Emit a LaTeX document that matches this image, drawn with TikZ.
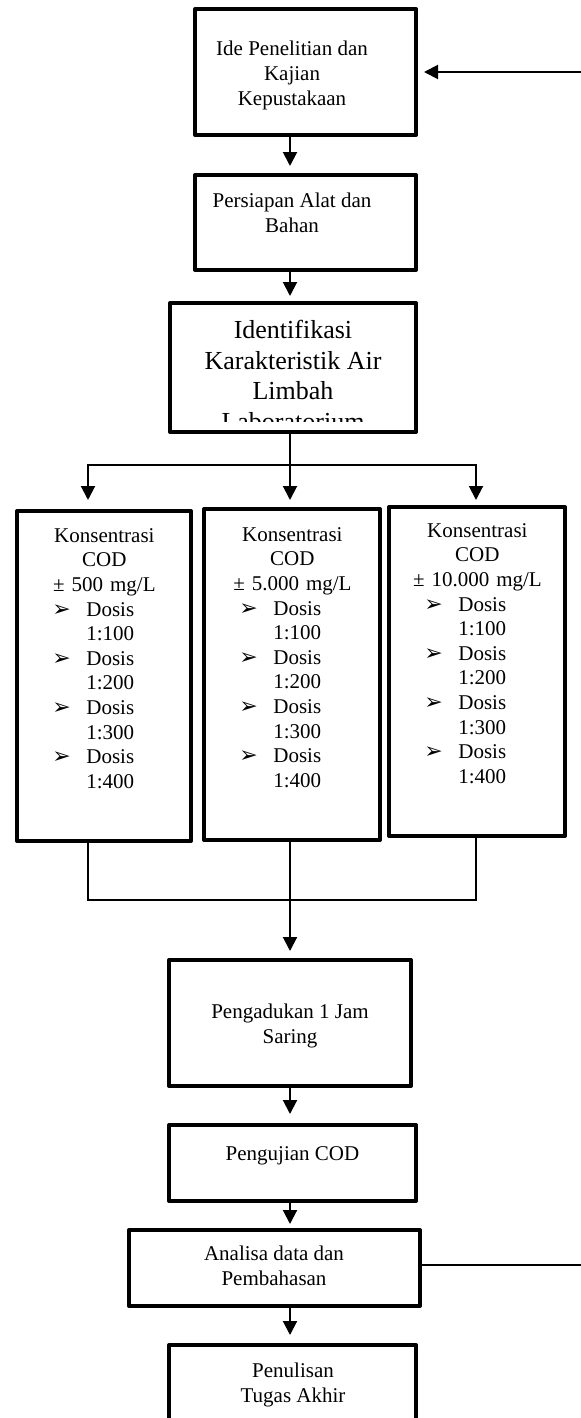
\documentclass[tikz,border=0pt]{standalone}
\usepackage{fontspec}
\setmainfont{Liberation Serif}
\newfontfamily\panahfont{DejaVu Sans}
\usetikzlibrary{arrows.meta}
\setlength\parindent{0pt}
\newcommand{\dosis}[1]{\hspace*{18.5pt}\makebox[17pt][l]{\panahfont\fontsize{11}{11}\selectfont ➢}Dosis\\\hspace*{35.5pt}#1\par}
\newcommand{\kolom}[1]{\centering Konsentrasi\\COD\\± #1 mg/L\par
  \raggedright\dosis{1:100}\dosis{1:200}\dosis{1:300}\dosis{1:400}}

\begin{document}
\begin{tikzpicture}[x=0.5pt,y=-0.5pt,
    kotak/.style={draw,line width=2pt,line join=round,inner sep=0pt},
    teks/.style={inner sep=0pt,align=center,anchor=north,font=\fontsize{10.5}{12.3}\selectfont},
    kolomteks/.style={inner sep=0pt,anchor=north west,font=\fontsize{10.5}{12.3}\selectfont},
    panah/.style={-{Triangle[length=7pt,width=7pt]},line width=1pt},
    garis/.style={line width=0.6pt}]
  \clip (0,0) rectangle (581,1418);
  \coordinate (spine) at (290,0);
  \coordinate (xl) at (88,0);
  \coordinate (xr) at (476,0);

  % boxes
  \node[kotak,minimum width=110.5pt,minimum height=63pt] (ide) at (305.5,72) {};
  \node[teks] (idet) at (292,41) {Ide Penelitian dan\\Kajian\\Kepustakaan};
  \node[kotak,minimum width=110.5pt,minimum height=47.5pt] (alat) at (305.5,222.5) {};
  \node[teks] (alatt) at (292,193) {Persiapan Alat dan\\Bahan};
  \node[kotak,minimum width=123pt,minimum height=64.5pt] (identifikasi) at (293,367.5) {};
  \begin{scope}
    \clip ([shift={(3,4)}]identifikasi.north west) rectangle ([shift={(-3,-13)}]identifikasi.south east);
    \node[teks,font=\fontsize{13}{15.25}\selectfont] (identifikasit) at (293,320)
      {Identifikasi\\Karakteristik Air\\Limbah\\Laboratorium};
  \end{scope}

  \node[kotak,minimum width=87pt,minimum height=165pt] (c1) at (104,676) {};
  \node[kolomteks,text width=89pt] (c1t) at (15,528) {\kolom{500}};
  \node[kotak,minimum width=88pt,minimum height=165.5pt] (c2) at (292,674.5) {};
  \node[kolomteks,text width=90pt] (c2t) at (202,527) {\kolom{5.000}};
  \node[kotak,minimum width=88pt,minimum height=164.5pt] (c3) at (477,671.5) {};
  \node[kolomteks,text width=90pt] (c3t) at (387,523) {\kolom{10.000}};

  \node[kotak,minimum width=121pt,minimum height=63pt] (aduk) at (290,1023) {};
  \node[teks] (adukt) at (290,1004) {Pengadukan 1 Jam\\Saring};
  \node[kotak,minimum width=123.5pt,minimum height=38pt] (uji) at (292.5,1163) {};
  \node[teks] (ujit) at (292.5,1146) {Pengujian COD};
  \node[kotak,minimum width=145.5pt,minimum height=38pt] (analisa) at (274.5,1268) {};
  \node[teks] (analisat) at (274,1246) {Analisa data dan\\Pembahasan};
  \node[kotak,minimum width=123.5pt,minimum height=55pt] (tulis) at (292.5,1400) {};
  \node[teks] (tulist) at (293,1363) {Penulisan\\Tugas Akhir};

  % connectors
  \coordinate (balik1) at (581,72);
  \coordinate (balik2) at (581,1265);
  \coordinate (cabang) at (290,465);
  \coordinate (gabung) at (290,900);
  \draw[panah,shorten >=3pt] (balik1) -- (ide.east |- balik1);
  \draw[panah,shorten >=3.5pt] (ide.south -| spine) -- (alat.north -| spine);
  \draw[panah,shorten >=2.5pt] (alat.south -| spine) -- (identifikasi.north -| spine);
  \draw[line width=1pt] (identifikasi.south -| spine) -- (cabang);
  \draw[panah,shorten >=4.5pt] (cabang) -| (c1.north -| xl);
  \draw[panah,shorten >=3.5pt] (cabang) -- (c2.north -| spine);
  \draw[panah,shorten >=2.5pt] (cabang) -| (c3.north -| xr);
  \draw[garis] (c1.south -| xl) |- (gabung) -| (c3.south -| xr);
  \draw[panah,shorten >=3.5pt] (c2.south -| spine) -- (aduk.north -| spine);
  \draw[panah,shorten >=4.5pt] (aduk.south -| spine) -- (uji.north -| spine);
  \draw[panah,shorten >=2pt] (uji.south -| spine) -- (analisa.north -| spine);
  \draw[panah,shorten >=4pt] (analisa.south -| spine) -- (tulis.north -| spine);
  \draw[line width=0.8pt] (analisa.east |- balik2) -- (balik2);
\end{tikzpicture}
\end{document}
